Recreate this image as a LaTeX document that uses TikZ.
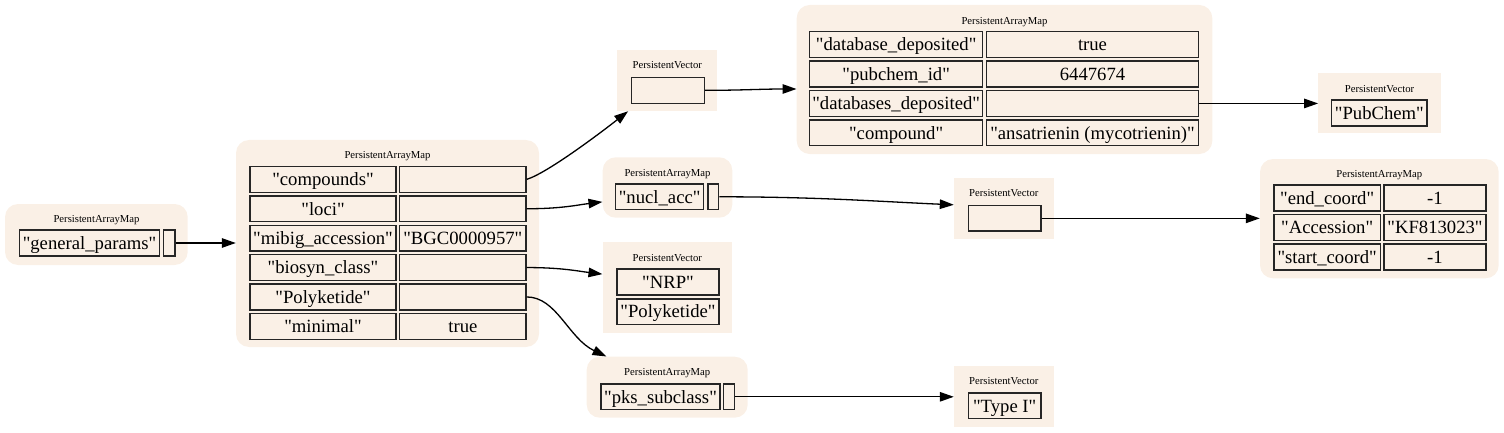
\documentclass[tikz,border=0pt]{standalone}
\usepackage{fontspec}
\setmainfont{Liberation Serif}[Ligatures=TeXOff]
\usetikzlibrary{arrows.meta,calc}
\definecolor{linen}{RGB}{250,240,230}
\newcommand{\mkbox}[7][]{\node[#1, minimum width={(#5-#3)*1pt}, minimum height={(#6-#4)*1pt}] (#2) at ({(#3+#5)/2},{(#4+#6)/2}) {#7};}
\newcommand{\mkcell}[6]{\node[cellb, minimum width={(#4-#2-1.4)*1pt}, minimum height={(#5-#3-1.4)*1pt}] (#1) at ({(#2+#4)/2},{(#3+#5)/2}) {#6};}
\tikzset{
 clusR/.style={fill=linen, draw=none, rounded corners=13pt, inner sep=0pt},
 clusV/.style={fill=linen, draw=none, inner sep=0pt},
 cellb/.style={draw=black!85, fill=linen, line width=1.4pt, inner sep=0pt, font=\fontsize{18.67}{22}\selectfont, text height=12.6pt, text depth=0pt},
 ttl/.style={font=\fontsize{10.67}{12}\selectfont, inner sep=0pt, text height=7.3pt, text depth=2.3pt},
 arr/.style={-{Triangle[length=14pt,width=9.5pt]}, line width=1.3pt, draw=black}
}
\begin{document}
\begin{tikzpicture}[x=1pt,y=-1pt]
\useasboundingbox (0,0) rectangle (1504,433);
% clusters
\mkbox[clusR]{cgen}{5}{204}{187.7}{265}{}
\mkbox[clusR]{cmain}{236}{140}{539}{347}{}
\mkbox[clusV]{cpv1}{617.3}{50}{717.3}{111}{}
\mkbox[clusR]{ctop}{796.7}{5}{1212.3}{154}{}
\mkbox[clusV]{cpub}{1318.3}{73.3}{1440.7}{133.3}{}
\mkbox[clusR]{cnuc}{602.7}{157.3}{732.3}{217.7}{}
\mkbox[clusV]{cpv2}{954}{178.3}{1053.7}{239.3}{}
\mkbox[clusR]{cloc}{1260}{159}{1498.7}{278.3}{}
\mkbox[clusV]{cbio}{602.7}{242.3}{732}{332.7}{}
\mkbox[clusR]{cpks}{586.7}{356.7}{747.7}{417.7}{}
\mkbox[clusV]{ctyp}{954}{366}{1053.7}{427.3}{}
% titles
\node[ttl] (tgen) at (96.5,220) {PersistentArrayMap};
\node[ttl] (tmain) at (387.5,155.7) {PersistentArrayMap};
\node[ttl] (tpv1) at (667.3,66) {PersistentVector};
\node[ttl] (ttop) at (1004.5,22.3) {PersistentArrayMap};
\node[ttl] (tpub) at (1379.5,90) {PersistentVector};
\node[ttl] (tnuc) at (667.5,174) {PersistentArrayMap};
\node[ttl] (tpv2) at (1003.8,194.3) {PersistentVector};
\node[ttl] (tloc) at (1379.3,175) {PersistentArrayMap};
\node[ttl] (tbio) at (667.3,258.7) {PersistentVector};
\node[ttl] (tpks) at (667.2,373.3) {PersistentArrayMap};
\node[ttl] (ttyp) at (1003.8,382.3) {PersistentVector};
% general
\mkcell{gpk}{19}{229.3}{160}{256.7}{"general\_params"}
\mkcell{gpv}{163}{229.3}{175.7}{256.7}{}
% main map
\mkcell{m1k}{249.3}{165.7}{396.7}{193.0}{"compounds"}
\mkcell{m1v}{399}{165.7}{526.7}{193.0}{}
\mkcell{m2k}{249.3}{195.1}{396.7}{222.4}{"loci"}
\mkcell{m2v}{399}{195.1}{526.7}{222.4}{}
\mkcell{m3k}{249.3}{224.5}{396.7}{251.8}{"mibig\_accession"}
\mkcell{m3v}{399}{224.5}{526.7}{251.8}{"BGC0000957"}
\mkcell{m4k}{249.3}{253.9}{396.7}{281.2}{"biosyn\_class"}
\mkcell{m4v}{399}{253.9}{526.7}{281.2}{}
\mkcell{m5k}{249.3}{283.3}{396.7}{310.6}{"Polyketide"}
\mkcell{m5v}{399}{283.3}{526.7}{310.6}{}
\mkcell{m6k}{249.3}{312.7}{396.7}{340.0}{"minimal"}
\mkcell{m6v}{399}{312.7}{526.7}{340.0}{true}
% compounds vector
\mkcell{pv1b}{631}{76.7}{705}{104}{}
% top map
\mkcell{t1k}{809}{31}{983.3}{58.3}{"database\_deposited"}
\mkcell{t1v}{986}{31}{1199}{58.3}{true}
\mkcell{t2k}{809}{60.4}{983.3}{87.7}{"pubchem\_id"}
\mkcell{t2v}{986}{60.4}{1199}{87.7}{6447674}
\mkcell{t3k}{809}{89.8}{983.3}{117.1}{"databases\_deposited"}
\mkcell{t3v}{986}{89.8}{1199}{117.1}{}
\mkcell{t4k}{809}{119.2}{983.3}{146.5}{"compound"}
\mkcell{t4v}{986}{119.2}{1199}{146.5}{"ansatrienin (mycotrienin)"}
% pubchem
\mkcell{pubb}{1331}{99.3}{1427.7}{126.7}{"PubChem"}
% nucl_acc
\mkcell{nuck}{615}{183.3}{704.3}{210.3}{"nucl\_acc"}
\mkcell{nucv}{707.3}{183.3}{719.3}{210.3}{}
% loci vector
\mkcell{pv2b}{967.7}{205}{1041.7}{231.7}{}
% loci map
\mkcell{l1k}{1273.3}{184.3}{1381}{211.6}{"end\_coord"}
\mkcell{l1v}{1383.3}{184.3}{1486.7}{211.6}{-1}
\mkcell{l2k}{1273.3}{213.8}{1381}{241.1}{"Accession"}
\mkcell{l2v}{1383.3}{213.8}{1486.7}{241.1}{"KF813023"}
\mkcell{l3k}{1273.3}{243.3}{1381}{270.6}{"start\_coord"}
\mkcell{l3v}{1383.3}{243.3}{1486.7}{270.6}{-1}
% biosyn vector
\mkcell{bio1}{616.3}{268.3}{719.7}{295.7}{"NRP"}
\mkcell{bio2}{616.3}{298.3}{719.7}{325}{"Polyketide"}
% pks
\mkcell{pksk}{600.3}{383.3}{720.7}{410.3}{"pks\_subclass"}
\mkcell{pksv}{722.7}{383.3}{735.3}{410.3}{}
% type I
\mkcell{typb}{967.7}{392.3}{1041.7}{419.3}{"Type I"}
% edges
\draw[arr] (gpv.east) -- (gpv.east -| cmain.west);
\draw[arr] (m1v.east) .. controls +(20,-6) and +(-28,22) .. ($(cpv1.south west)+(11,0)$);
\draw[arr] (m2v.east) .. controls +(35,0) and +(-25,3) .. ($(cnuc.south west)+(0,-16)$);
\draw[arr] (m4v.east) .. controls +(35,0) and +(-25,-3) .. ($(cbio.north west)+(0,32)$);
\draw[arr] (m5v.east) .. controls +(30,0) and +(-38,-18) .. ($(cpks.north west)+(20,0)$);
\draw[arr] (pv1b.east) .. controls +(35,0) and +(-35,0) .. ($(ctop.west)+(0,9.5)$);
\draw[arr] (t3v.east) -- (t3v.east -| cpub.west);
\draw[arr] (nucv.east) .. controls +(100,0) and +(-70,-3) .. ($(cpv2.north west)+(0,26.7)$);
\draw[arr] (pv2b.east) -- (pv2b.east -| cloc.west);
\draw[arr] (pksv.east) -- (pksv.east -| ctyp.west);
\end{tikzpicture}
\end{document}
